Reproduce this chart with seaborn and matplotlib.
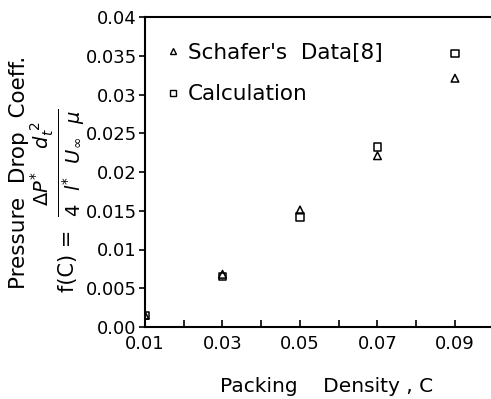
import matplotlib
matplotlib.use("Agg")
import matplotlib.pyplot as plt
import seaborn as sns
import pandas as pd
from matplotlib.lines import Line2D

sns.set_style("ticks")
plt.rcParams['font.family'] = ['DejaVu Sans']
plt.rcParams['mathtext.fontset'] = 'dejavusans'
plt.rcParams['text.color'] = 'black'
plt.rcParams['xtick.color'] = 'black'
plt.rcParams['ytick.color'] = 'black'
plt.rcParams['axes.labelcolor'] = 'black'

density = [0.01, 0.03, 0.05, 0.07, 0.09]
schafer = [0.0015, 0.0068, 0.0151, 0.0221, 0.0321]
calculation = [0.0015, 0.0065, 0.0142, 0.0232, 0.0353]
series_names = ["Schafer's  Data[8]", "Calculation"]
xticks = [0.01, 0.03, 0.05, 0.07, 0.09]
xticklabels = ["0.01", "0.03", "0.05", "0.07", "0.09"]
yticks = [0.0, 0.005, 0.01, 0.015, 0.02, 0.025, 0.03, 0.035, 0.04]
yticklabels = ["0.00", "0.005", "0.01", "0.015", "0.02", "0.025", "0.03", "0.035", "0.04"]

df = pd.DataFrame({
    "C": density * 2,
    "f": schafer + calculation,
    "series": [series_names[0]] * len(density) + [series_names[1]] * len(density),
})

fig = plt.figure(figsize=(4.91, 3.99), dpi=100)
ax = fig.add_axes([145/491, 1 - 327/399, 1 - 145/491, 310/399])

markers = {series_names[0]: "^", series_names[1]: "s"}
for name in series_names:
    sub = df[df["series"] == name]
    sns.scatterplot(data=sub, x="C", y="f", marker=markers[name], s=30,
                    facecolor="none", edgecolor="black", linewidth=1.1, ax=ax, legend=False)

ax.set_xlim(0.01, 0.0993)
ax.set_ylim(0.0, 0.04)
ax.set_xticks(xticks)
ax.set_xticklabels(xticklabels, fontsize=13)
ax.set_xticks([0.02, 0.04, 0.06, 0.08], minor=True)
ax.set_yticks(yticks)
ax.set_yticklabels(yticklabels, fontsize=13)
ax.tick_params(axis='x', which='both', direction='in', length=5, width=1.2, pad=6)
ax.tick_params(axis='y', direction='out', length=4, width=1.2, pad=2)
ax.set_xlabel("")
ax.set_ylabel("")
for s in ["left", "bottom", "top"]:
    ax.spines[s].set_linewidth(1.5)
    ax.spines[s].set_color("black")
ax.spines["right"].set_visible(False)

handles = [Line2D([], [], marker=markers[n], linestyle="none", markerfacecolor="none",
                  markeredgecolor="black", markersize=5, markeredgewidth=1.0) for n in series_names]
ax.legend(handles, series_names, loc="center left", bbox_to_anchor=(0.062, 0.8175),
          frameon=False, fontsize=15.5, handlelength=0.6, handletextpad=0.4, labelspacing=1.0,
          borderaxespad=0, borderpad=0)

fig.text(327/491, 1 - 386/399, "Packing    Density , C", ha="center", va="center", fontsize=14.5)
fig.text(19/491, 1 - 172/399, "Pressure  Drop  Coeff.", rotation=90, ha="center", va="center", fontsize=15.5)
fig.text(68/491, 1 - 261/399, "f(C) =", rotation=90, ha="center", va="center", fontsize=15)
fig.text(58/491, 1 - 163/399,
         r"$\frac{\Delta P^{*}\quad\; d_t^{\;2}}{4\;\;\, l^{*}\;\;\, U_{\infty}\;\;\,\mu}$",
         rotation=90, ha="center", va="center", fontsize=20)

fig.savefig("out.png", dpi=100)
